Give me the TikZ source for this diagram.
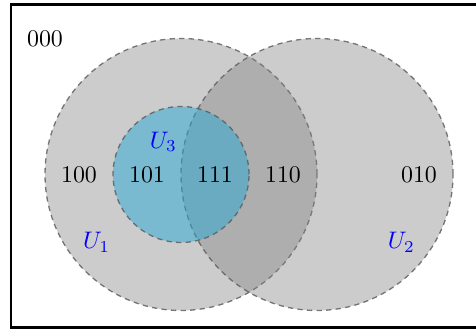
\documentclass[tikz,border=0pt]{standalone}
\definecolor{setblue}{RGB}{40,168,212}
\tikzset{
  setcirc/.style={draw=black!65, draw opacity=0.8, dash pattern=on 2.2pt off 1.8pt, line width=0.55pt},
  graycirc/.style={setcirc, fill=gray, fill opacity=0.4},
  bluecirc/.style={setcirc, fill=setblue, fill opacity=0.5},
  lbl/.style={text=black, inner sep=0pt},
  setname/.style={text=blue, inner sep=0pt}
}
\begin{document}
\begin{tikzpicture}
\useasboundingbox (-2.662,-2.272) rectangle (4.338,2.566);
\draw[line width=1pt] (-2.5,-2.25) rectangle (4.6,2.5);
\path[graycirc] (0,0) circle (2);
\path[graycirc] (2,0) circle (2);
\path[bluecirc] (0,0) circle (1);
\node[lbl] (n000) at (-2,2) {000};
\node[lbl] (n100) at (-1.5,0) {100};
\node[lbl] (n101) at (-0.5,0) {101};
\node[lbl] (n111) at (0.5,0) {111};
\node[lbl] (n110) at (1.5,0) {110};
\node[lbl] (n010) at (3.5,0) {010};
\node[setname] (u1) at (-1.24,-1) {$U_1$};
\node[setname] (u2) at (3.24,-1) {$U_2$};
\node[setname] (u3) at (-0.26,0.48) {$U_3$};
\end{tikzpicture}
\end{document}
